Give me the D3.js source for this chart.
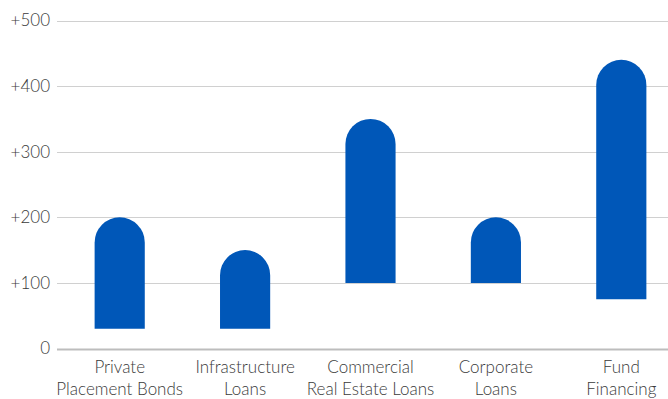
<!DOCTYPE html>
<html>
<head>
<meta charset="utf-8">
<script src="https://cdn.jsdelivr.net/npm/d3@7"></script>
<style>
  body { margin: 0; background: #fff; }
  svg { display: block; font-family: Lato, "Open Sans", sans-serif; }
</style>
</head>
<body>
<div id="chart"></div>
<script>
// categories, each label split over two lines
var categories = [
  ["Private", "Placement Bonds"],
  ["Infrastructure", "Loans"],
  ["Commercial", "Real Estate Loans"],
  ["Corporate", "Loans"],
  ["Fund", "Financing"]
];
var lowValues = [30, 30, 100, 100, 75];
var highValues = [200, 150, 350, 200, 440];
var yTicks = [0, 100, 200, 300, 400, 500];

var width = 668;
var height = 399;
var plotLeft = 57;
var plotRight = 684; // plot runs off the right edge, as in the original
var plotTop = 20.5;
var plotBottom = 348.5;
var textColor = "#3a3a3a";

var data = categories.map(function(c, i) {
  return { name: c.join(" "), lines: c, low: lowValues[i], high: highValues[i] };
});

var svg = d3.select("#chart").append("svg")
  .attr("width", width)
  .attr("height", height);

var x = d3.scaleBand()
  .domain(data.map(function(d) { return d.name; }))
  .range([plotLeft, plotRight])
  .paddingInner(0.6)
  .paddingOuter(0.3);

var y = d3.scaleLinear()
  .domain([0, 500])
  .range([plotBottom, plotTop]);

// grid lines
svg.append("g")
  .selectAll("line")
  .data(yTicks)
  .join("line")
  .attr("x1", plotLeft)
  .attr("x2", width)
  .attr("y1", function(d) { return Math.round(y(d)) + 0.5; })
  .attr("y2", function(d) { return Math.round(y(d)) + 0.5; })
  .attr("stroke", function(d) { return d === 0 ? "#bdbdbd" : "#d0d0d0"; })
  .attr("stroke-width", function(d) { return d === 0 ? 2 : 1; });

// y labels
var yAxis = d3.axisLeft(y)
  .tickValues(yTicks)
  .tickSize(0)
  .tickPadding(7)
  .tickFormat(function(d) { return d === 0 ? "0" : "+" + d; });

svg.append("g")
  .attr("transform", "translate(" + plotLeft + ",0)")
  .call(yAxis)
  .call(function(g) { g.select(".domain").remove(); })
  .selectAll("text")
  .attr("font-size", 17)
  .attr("font-weight", 300)
  .attr("font-family", "Lato, sans-serif")
  .attr("fill", textColor);

// bars with a round top
function barPath(d) {
  var w = x.bandwidth();
  var r = w / 2;
  var x0 = x(d.name);
  var yTop = y(d.high);
  var yBot = y(d.low);
  return "M" + x0 + "," + yBot +
    "L" + x0 + "," + (yTop + r) +
    "A" + r + "," + r + " 0 0 1 " + (x0 + w) + "," + (yTop + r) +
    "L" + (x0 + w) + "," + yBot + "Z";
}

svg.append("g")
  .selectAll("path")
  .data(data)
  .join("path")
  .attr("d", barPath)
  .attr("fill", "#0057b8");

// x labels
var xAxis = d3.axisBottom(x).tickSize(0).tickFormat("");
var xg = svg.append("g")
  .attr("transform", "translate(0," + plotBottom + ")")
  .call(xAxis);
xg.select(".domain").remove();

xg.selectAll(".tick text").remove();
xg.selectAll(".tick")
  .data(data)
  .append("text")
  .attr("text-anchor", "middle")
  .attr("font-size", 17)
  .attr("font-weight", 300)
  .attr("font-family", "Lato, sans-serif")
  .attr("fill", textColor)
  .selectAll("tspan")
  .data(function(d) { return d.lines; })
  .join("tspan")
  .attr("x", 0)
  .attr("y", function(d, i) { return 24 + i * 22; })
  .text(function(d) { return d; });
</script>
</body>
</html>
